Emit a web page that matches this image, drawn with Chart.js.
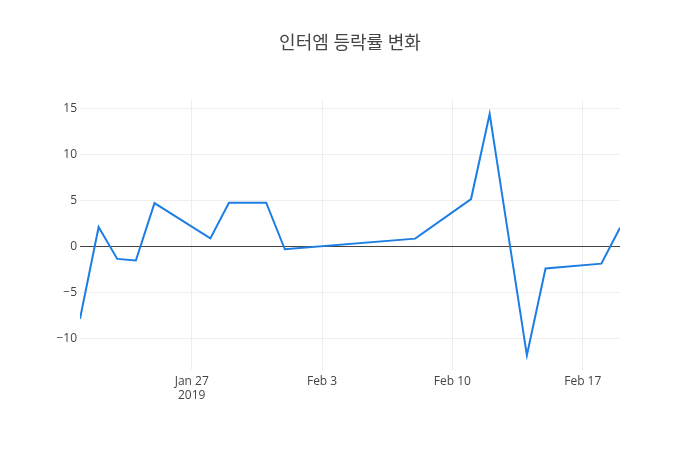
<!DOCTYPE html>
<html>
<head>
<meta charset="utf-8">
<script src="https://cdn.jsdelivr.net/npm/chart.js@4/dist/chart.umd.min.js"></script>
<style>
  body { margin: 0; background: #fff; }
</style>
</head>
<body>
<canvas id="myChart" width="700" height="450"></canvas>
<script>
var dates = ["2019-01-21","2019-01-22","2019-01-23","2019-01-24","2019-01-25",
  "2019-01-28","2019-01-29","2019-01-31","2019-02-01","2019-02-08",
  "2019-02-11","2019-02-12","2019-02-14","2019-02-15","2019-02-18","2019-02-19"];
var changes = [-7.86, 2.14, -1.34, -1.52, 4.74,
  0.9, 4.78, 4.78, -0.29, 0.87,
  5.18, 14.46, -11.85, -2.39, -1.86, 2.05];
var tickDates = ["2019-01-27","2019-02-03","2019-02-10","2019-02-17"];
var tickLabels = [["Jan 27","2019"], "Feb 3", "Feb 10", "Feb 17"];

var start = Date.UTC(2019, 0, 21);
function dayOf(s) {
  var p = s.split("-");
  return (Date.UTC(+p[0], +p[1] - 1, +p[2]) - start) / 86400000;
}

var points = dates.map(function (d, i) { return { x: dayOf(d), y: changes[i] }; });
var tickPos = tickDates.map(dayOf);

var fontFam = "'Open Sans', 'Noto Sans CJK KR', sans-serif";

new Chart("myChart", {
  type: "line",
  data: {
    datasets: [{
      data: points,
      borderColor: "rgb(28,126,228)",
      borderWidth: 2,
      pointRadius: 0,
      tension: 0,
      fill: false
    }]
  },
  options: {
    responsive: false,
    animation: false,
    layout: { padding: 0 },
    plugins: {
      legend: { display: false },
      tooltip: { enabled: false },
      title: {
        display: true,
        text: "인터엠 등락률 변화",
        color: "#444",
        font: { family: fontFam, size: 18, weight: "normal" },
        padding: { top: 33, bottom: 45.4 }
      }
    },
    scales: {
      x: {
        type: "linear",
        min: 0,
        max: 29,
        afterBuildTicks: function (axis) {
          axis.ticks = tickPos.map(function (v) { return { value: v }; });
        },
        afterFit: function (axis) { axis.height = 80; },
        ticks: {
          autoSkip: false,
          maxRotation: 0,
          padding: 4,
          color: "#444",
          font: { family: fontFam, size: 12 },
          callback: function (v) {
            var i = tickPos.indexOf(v);
            return i >= 0 ? tickLabels[i] : "";
          }
        },
        grid: { color: "#eee", drawTicks: false },
        border: { display: false }
      },
      y: {
        min: -13.45,
        max: 15.98,
        afterBuildTicks: function (axis) {
          axis.ticks = [-10, -5, 0, 5, 10, 15].map(function (v) { return { value: v }; });
        },
        afterFit: function (axis) { axis.width = 80; },
        ticks: {
          padding: 3,
          color: "#444",
          font: { family: fontFam, size: 12 },
          callback: function (v) { return v < 0 ? "\u2212" + Math.abs(v) : String(v); }
        },
        grid: {
          drawTicks: false,
          color: function (ctx) { return ctx.tick && ctx.tick.value === 0 ? "#444" : "#eee"; }
        },
        border: { display: false }
      },
      // empty axis that only reserves the right margin
      yRight: {
        position: "right",
        min: 0,
        max: 1,
        afterFit: function (axis) { axis.width = 80; },
        ticks: { display: false },
        grid: { display: false, drawTicks: false },
        border: { display: false }
      }
    }
  }
});
</script>
</body>
</html>
